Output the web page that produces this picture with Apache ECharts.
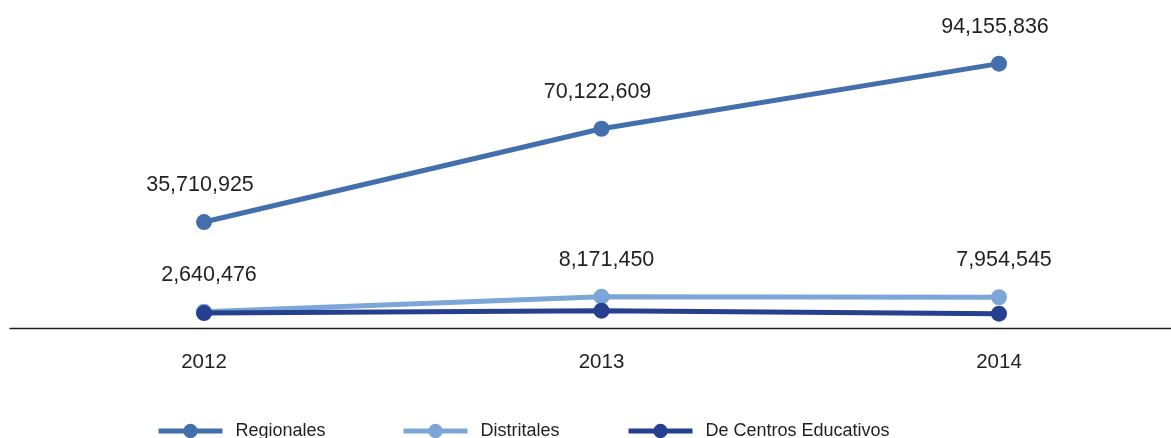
<!DOCTYPE html>
<html>
<head>
<meta charset="utf-8">
<script src="https://cdn.jsdelivr.net/npm/echarts@6/dist/echarts.min.js"></script>
<style>
html,body{margin:0;padding:0;background:#fff;}
#c{width:1171px;height:438px;}
</style>
</head>
<body>
<div id="c"></div>
<script>
const years = ['2012', '2013', '2014'];
const regionales = [35710925, 70122609, 94155836];
const distritales = [2640476, 8171450, 7954545];
const centrosEducativos = [2100000, 3000000, 1900000];
const seriesNames = ['Regionales', 'Distritales', 'De Centros Educativos'];
const colors = ['#446FAD', '#7CA5D8', '#24408E'];

const FONT = '"Liberation Sans", Arial, sans-serif';
const fmt = v => Number(v).toLocaleString('en-US');

const chart = echarts.init(document.getElementById('c'), null, {renderer: 'canvas'});

function legendAt(name, left) {
  return {
    data: [name],
    left: left,
    top: 422,
    itemWidth: 64,
    itemHeight: 18,
    itemGap: 0,
    padding: 0,
    selectedMode: false,
    lineStyle: {width: 5},
    textStyle: {fontFamily: FONT, fontSize: 18, color: '#231F20', padding: [0, 0, 0, 8]}
  };
}

function labelCfg(dx) {
  return {
    show: true,
    position: 'top',
    distance: 18,
    offset: [dx, 0],
    fontFamily: FONT,
    fontSize: 21.5,
    color: '#231F20',
    formatter: p => fmt(p.value)
  };
}

chart.setOption({
  animation: false,
  backgroundColor: '#fff',
  color: colors,
  grid: [
    {left: 204, right: 172, top: 20.7, bottom: 109.7},
    {left: 10, right: 0, top: 20.7, bottom: 109.7}
  ],
  legend: [
    legendAt(seriesNames[0], 156),
    legendAt(seriesNames[1], 401),
    legendAt(seriesNames[2], 626)
  ],
  xAxis: [
    {
      type: 'category', gridIndex: 0, data: years, boundaryGap: false,
      axisLine: {show: false}, axisTick: {show: false},
      axisLabel: {margin: 24, fontFamily: FONT, fontSize: 20.5, color: '#231F20'},
      splitLine: {show: false}
    },
    {
      type: 'value', gridIndex: 1, min: 0, max: 1,
      axisLine: {show: true, onZero: false, lineStyle: {color: '#231F20', width: 1.3}},
      axisTick: {show: false}, axisLabel: {show: false}, splitLine: {show: false}
    }
  ],
  yAxis: [
    {type: 'value', gridIndex: 0, min: -3500000, max: 110000000, show: false, splitLine: {show: false}},
    {type: 'value', gridIndex: 1, min: 0, max: 1, show: false, splitLine: {show: false}}
  ],
  series: [
    {
      name: seriesNames[2], type: 'line', data: centrosEducativos,
      xAxisIndex: 0, yAxisIndex: 0,
      symbol: 'circle', symbolSize: 16, z: 3,
      lineStyle: {width: 5, color: colors[2]}, itemStyle: {color: colors[2]}
    },
    {
      name: seriesNames[1], type: 'line', data: distritales,
      xAxisIndex: 0, yAxisIndex: 0,
      symbol: 'circle', symbolSize: 16, z: 2,
      lineStyle: {width: 5, color: colors[1]}, itemStyle: {color: colors[1]},
      label: labelCfg(5)
    },
    {
      name: seriesNames[0], type: 'line', data: regionales,
      xAxisIndex: 0, yAxisIndex: 0,
      symbol: 'circle', symbolSize: 16, z: 4,
      lineStyle: {width: 5, color: colors[0]}, itemStyle: {color: colors[0]},
      label: labelCfg(-4)
    }
  ]
});
</script>
</body>
</html>
